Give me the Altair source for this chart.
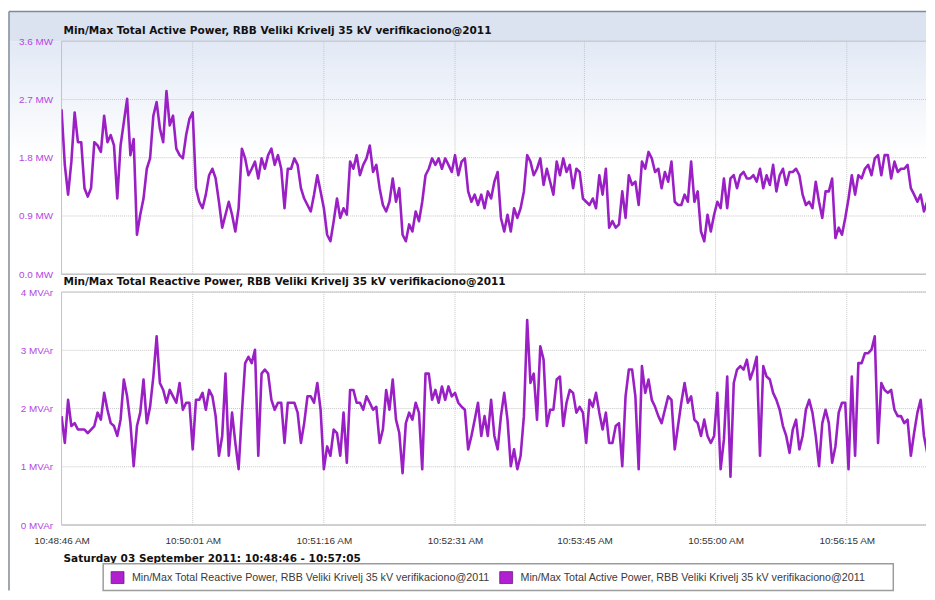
import altair as alt
import pandas as pd

# ---------------- data ----------------
title_active = "Min/Max Total Active Power, RBB Veliki Krivelj 35 kV verifikaciono@2011"
title_reactive = "Min/Max Total Reactive Power, RBB Veliki Krivelj 35 kV verifikaciono@2011"
date_caption = "Saturday 03 September 2011: 10:48:46 - 10:57:05"
legend_names = [title_reactive, title_active]

sample_step_s = 1.875          # seconds between readings (start 10:48:46)
x_end_s = 494.3                # visible end of the time window (s after start)
tick_seconds = [0, 75, 150, 225, 299, 374, 449]
tick_labels = ["10:48:46 AM", "10:50:01 AM", "10:51:16 AM", "10:52:31 AM",
               "10:53:45 AM", "10:55:00 AM", "10:56:15 AM"]

active_ticks = [0.0, 0.9, 1.8, 2.7, 3.6]
reactive_ticks = [0, 1, 2, 3, 4]

active_mw = [
    2.55, 1.69, 1.23, 1.74, 2.50, 2.04, 2.04, 1.33, 1.20, 1.33,
    2.04, 1.99, 1.89, 2.45, 2.04, 2.15, 1.99, 1.17, 1.99, 2.35,
    2.71, 1.84, 2.09, 0.61, 0.92, 1.17, 1.63, 1.79, 2.45, 2.66,
    2.25, 2.04, 2.83, 2.30, 2.45, 1.94, 1.84, 1.79, 2.15, 2.40,
    2.50, 1.33, 1.12, 1.02, 1.23, 1.53, 1.63, 1.48, 1.12, 0.72,
    0.92, 1.12, 0.92, 0.66, 1.02, 1.94, 1.79, 1.53, 1.63, 1.74,
    1.48, 1.79, 1.63, 1.84, 1.94, 1.69, 1.84, 1.63, 1.02, 1.63,
    1.63, 1.79, 1.69, 1.33, 1.17, 1.07, 0.97, 1.23, 1.53, 1.28,
    1.02, 0.61, 0.51, 0.82, 1.17, 0.87, 1.02, 0.92, 1.74, 1.63,
    1.84, 1.53, 1.69, 1.79, 1.99, 1.58, 1.69, 1.33, 1.07, 0.97,
    1.12, 1.48, 1.12, 1.33, 0.61, 0.51, 0.77, 0.66, 0.97, 0.82,
    1.12, 1.53, 1.63, 1.79, 1.69, 1.79, 1.63, 1.79, 1.69, 1.58,
    1.84, 1.53, 1.74, 1.79, 1.28, 1.12, 1.23, 1.07, 1.23, 1.02,
    1.28, 1.17, 1.43, 1.58, 0.87, 0.66, 0.92, 0.66, 1.02, 0.87,
    1.02, 1.28, 1.84, 1.74, 1.53, 1.63, 1.79, 1.38, 1.63, 1.43,
    1.23, 1.74, 1.53, 1.79, 1.58, 1.69, 1.33, 1.63, 1.58, 1.17,
    1.12, 1.07, 1.17, 1.02, 1.53, 1.23, 1.63, 0.72, 0.82, 0.72,
    0.77, 1.28, 0.87, 1.53, 1.38, 1.43, 1.07, 1.74, 1.63, 1.89,
    1.79, 1.58, 1.63, 1.33, 1.58, 1.43, 1.74, 1.12, 1.07, 1.07,
    1.23, 1.12, 1.74, 1.12, 1.28, 0.66, 0.51, 0.92, 0.66, 0.92,
    1.12, 1.02, 1.48, 1.02, 1.48, 1.53, 1.33, 1.53, 1.58, 1.48,
    1.48, 1.53, 1.43, 1.63, 1.33, 1.53, 1.38, 1.69, 1.28, 1.53,
    1.63, 1.38, 1.58, 1.58, 1.63, 1.53, 1.23, 1.07, 1.12, 1.02,
    1.43, 1.12, 0.87, 1.28, 1.28, 1.48, 0.56, 0.72, 0.61, 0.87,
    1.17, 1.53, 1.23, 1.53, 1.48, 1.63, 1.69, 1.53, 1.79, 1.84,
    1.53, 1.84, 1.84, 1.48, 1.74, 1.58, 1.63, 1.63, 1.69, 1.33,
    1.23, 1.12, 1.23, 0.97, 1.12,
]

reactive_mvar = [
    1.87, 1.41, 2.15, 1.70, 1.75, 1.64, 1.64, 1.64, 1.58, 1.64,
    1.70, 1.93, 1.81, 2.27, 1.98, 1.75, 1.70, 1.53, 1.81, 2.50,
    2.21, 1.75, 1.01, 1.70, 1.93, 2.50, 1.75, 2.03, 2.55, 3.24,
    2.44, 2.32, 2.10, 2.32, 2.21, 2.10, 2.44, 1.98, 2.10, 2.10,
    1.30, 2.15, 2.15, 2.27, 1.98, 2.32, 2.21, 1.87, 1.19, 1.53,
    2.60, 1.19, 1.93, 1.41, 0.96, 1.93, 2.78, 2.89, 2.78, 3.01,
    1.19, 2.60, 2.67, 2.60, 2.15, 1.98, 2.10, 2.10, 1.41, 2.10,
    2.10, 2.10, 1.93, 1.41, 1.75, 2.21, 2.21, 2.10, 2.44, 1.98,
    0.96, 1.35, 1.19, 1.64, 1.58, 1.19, 1.93, 1.07, 2.32, 2.32,
    2.10, 2.10, 1.98, 2.21, 2.10, 1.98, 2.03, 1.41, 1.64, 2.32,
    1.98, 2.50, 1.81, 1.58, 0.89, 1.75, 1.93, 1.81, 2.10, 1.93,
    0.96, 2.60, 2.60, 2.15, 2.32, 2.10, 2.38, 2.15, 2.38, 2.21,
    2.27, 2.10, 2.03, 1.98, 1.30, 1.53, 1.81, 2.10, 1.53, 1.87,
    1.53, 2.15, 1.53, 1.30, 1.87, 2.27, 1.81, 1.01, 1.30, 0.96,
    1.19, 1.87, 3.52, 2.44, 2.60, 1.81, 3.07, 2.84, 1.70, 1.98,
    1.98, 2.50, 2.55, 1.70, 2.10, 2.32, 2.27, 1.93, 2.03, 1.93,
    1.41, 2.15, 2.03, 2.27, 1.93, 1.64, 1.93, 1.41, 1.41, 1.70,
    1.75, 1.01, 2.21, 2.67, 2.67, 2.21, 0.96, 2.73, 2.27, 2.50,
    2.15, 2.03, 1.87, 1.75, 1.98, 2.21, 2.15, 1.30, 1.70, 2.10,
    2.44, 2.10, 2.21, 1.81, 1.75, 1.53, 1.81, 1.53, 1.41, 1.53,
    2.27, 0.96, 1.47, 2.55, 0.83, 2.44, 2.67, 2.73, 2.67, 2.84,
    2.50, 2.67, 2.89, 1.19, 2.73, 2.55, 2.50, 2.27, 2.15, 1.98,
    1.70, 1.53, 1.24, 1.64, 1.81, 1.30, 1.53, 1.98, 2.15, 1.93,
    1.53, 1.01, 1.75, 1.98, 1.75, 1.07, 1.35, 1.93, 2.10, 2.10,
    0.96, 2.55, 1.19, 2.78, 2.78, 2.95, 2.95, 3.01, 3.24, 1.41,
    2.44, 2.32, 2.27, 2.32, 1.98, 1.87, 1.87, 1.75, 1.81, 1.19,
    1.58, 1.93, 2.15, 1.53, 1.24,
]

# ---------------- tables ----------------
t_vals = [i * sample_step_s for i in range(len(active_mw))]
df_active = pd.DataFrame({"t": t_vals, "v": active_mw})
df_reactive = pd.DataFrame({"t": t_vals, "v": reactive_mvar})
df_xgrid = pd.DataFrame({"t": tick_seconds})
df_ygrid_a = pd.DataFrame({"v": active_ticks})
df_ygrid_r = pd.DataFrame({"v": reactive_ticks})
one = pd.DataFrame({"k": [0]})

# ---------------- style ----------------
W, H = 872, 235
LINE = "#9a1fc4"
PURPLE_LBL = "#b446e0"
GRID = "#c6c6c6"
BORDER = "#c4c4c4"
FRAME = "#7f8b97"
SWATCH = "#b01fd0"


def label_expr(vals, labels):
    expr = "''"
    for v, l in reversed(list(zip(vals, labels))):
        expr = f"datum.value == {v} ? '{l}' : ({expr})"
    return expr


x_scale = alt.Scale(domain=[0, x_end_s], nice=False, zero=False)


def x_axis(show):
    return alt.Axis(values=tick_seconds, labelExpr=label_expr(tick_seconds, tick_labels),
                    labels=show, ticks=False, tickSize=0, domain=False, grid=False,
                    title=None, labelFlush=False, labelOverlap=False,
                    labelFont="Liberation Sans", labelFontSize=10, labelColor="#333333",
                    labelPadding=11, zindex=1)


def y_axis(vals, expr):
    return alt.Axis(values=vals, labelExpr=expr, ticks=False, tickSize=0, domain=False,
                    grid=False, title=None, labelFont="Liberation Sans", labelFontSize=10,
                    labelColor=PURPLE_LBL, labelPadding=9, zindex=1)


def vrect(x, x2, y, y2, **kw):
    return alt.Chart(one).mark_rect(**kw).encode(
        x=alt.value(x), x2=alt.value(x2), y=alt.value(y), y2=alt.value(y2))


def hrule(y, x, x2, color, w=1):
    return alt.Chart(one).mark_rule(color=color, strokeWidth=w).encode(
        x=alt.value(x), x2=alt.value(x2), y=alt.value(y))


def vrule(x, y, y2, color, w=1):
    return alt.Chart(one).mark_rule(color=color, strokeWidth=w).encode(
        x=alt.value(x), y=alt.value(y), y2=alt.value(y2))


def text_at(label, x, y, **kw):
    return alt.Chart(pd.DataFrame({"label": [label]})).mark_text(
        align="left", baseline="middle", **kw).encode(
        x=alt.value(x), y=alt.value(y), text="label:N")


def panel(df, ytick_df, ytick_vals, y_max, y_expr, title_text, show_x, extras_before, extras_after):
    y_scale = alt.Scale(domain=[0, y_max], nice=False, zero=True)
    xa = x_axis(show_x)
    ya = y_axis(ytick_vals, y_expr)
    vgrid = alt.Chart(df_xgrid).mark_rule(color=GRID, strokeDash=[1, 1], strokeWidth=1).encode(
        x=alt.X("t:Q", scale=x_scale, axis=xa))
    hgrid = alt.Chart(ytick_df).mark_rule(color=GRID, strokeDash=[1, 1], strokeWidth=1).encode(
        y=alt.Y("v:Q", scale=y_scale, axis=ya))
    line = alt.Chart(df).mark_line(color=LINE, strokeWidth=2.6, clip=True,
                                   strokeJoin="round").encode(
        x=alt.X("t:Q", scale=x_scale, axis=xa),
        y=alt.Y("v:Q", scale=y_scale, axis=ya))
    borders = [hrule(0, 0, W, BORDER), vrule(0, 0, H, BORDER), hrule(H, 0, W, BORDER, 1.5)]
    title = text_at(title_text, 2, -10, font="DejaVu Sans", fontSize=10.6,
                    fontWeight="bold", color="#111111")
    return alt.layer(*extras_before, vgrid, hgrid, *borders, line, title, *extras_after).properties(
        width=W, height=H)


top_before = [
    vrect(-53, W, -30, 0, fill="#dbe3f1"),
    vrect(-53, W, 0, 115, fill=alt.LinearGradient(
        gradient="linear", x1=0, x2=0, y1=0, y2=1,
        stops=[alt.GradientStop(color="#e2e9f5", offset=0),
               alt.GradientStop(color="#ffffff", offset=1)])),
]
top_after = [
    hrule(-30, -53, W, FRAME, 1.5),
    vrule(-53, -30, 554, FRAME, 1.5),
]

bottom_after = [
    text_at(date_caption, 2, 269, font="DejaVu Sans", fontSize=10.6,
            fontWeight="bold", color="#111111"),
    vrect(42, 839, 274, 301, fill="#ffffff", stroke="#9c9c9c", strokeWidth=1.5),
    vrect(50, 63, 282, 294, fill=SWATCH, stroke="#6d1a86", strokeWidth=0.8),
    text_at(legend_names[0], 71, 288, font="Liberation Sans", fontSize=10.8, color="#3a3a3a"),
    vrect(442, 455, 282, 294, fill=SWATCH, stroke="#6d1a86", strokeWidth=0.8),
    text_at(legend_names[1], 463, 288, font="Liberation Sans", fontSize=10.8, color="#3a3a3a"),
]

top = panel(df_active, df_ygrid_a, active_ticks, 3.6,
            "format(datum.value, '.1f') + ' MW'", title_active, False, top_before, top_after)
bottom = panel(df_reactive, df_ygrid_r, reactive_ticks, 4,
               "datum.value + ' MVAr'", title_reactive, True, [], bottom_after)

chart = alt.vconcat(top, bottom, spacing=18, bounds="flush").resolve_scale(
    x="independent", y="independent").properties(padding=0).configure_view(stroke=None)

chart.save("out.html", embed_options={"renderer": "svg", "actions": False})
